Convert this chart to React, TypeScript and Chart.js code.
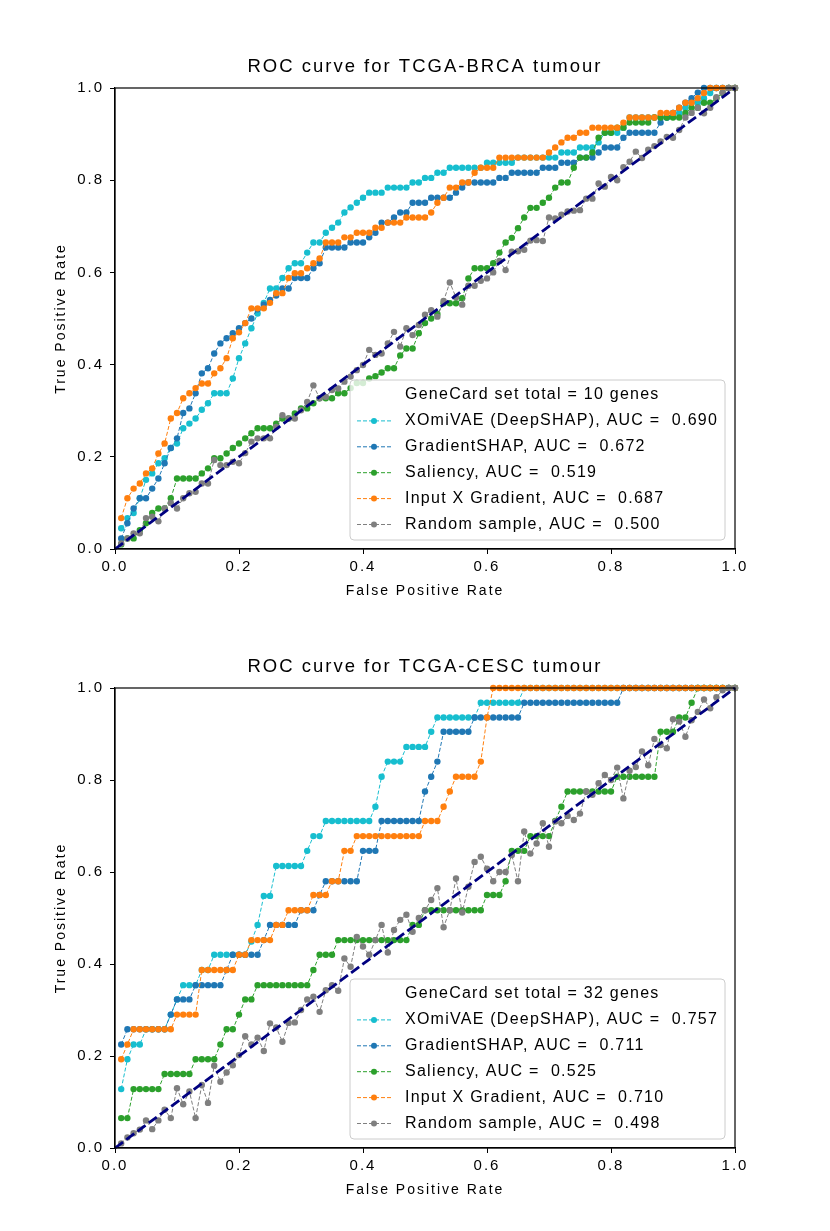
import { useEffect, useRef } from "react";
import { Chart, registerables } from "chart.js";

Chart.register(...registerables);

const FONT = '"Liberation Sans", Arial, Helvetica, sans-serif';

// false positive rate grid shared by every curve
const fpr = [
  0.01, 0.02, 0.03, 0.04, 0.05, 0.06, 0.07, 0.08, 0.09, 0.1,
  0.11, 0.12, 0.13, 0.14, 0.15, 0.16, 0.17, 0.18, 0.19, 0.2,
  0.21, 0.22, 0.23, 0.24, 0.25, 0.26, 0.27, 0.28, 0.29, 0.3,
  0.31, 0.32, 0.33, 0.34, 0.35, 0.36, 0.37, 0.38, 0.39, 0.4,
  0.41, 0.42, 0.43, 0.44, 0.45, 0.46, 0.47, 0.48, 0.49, 0.5,
  0.51, 0.52, 0.53, 0.54, 0.55, 0.56, 0.57, 0.58, 0.59, 0.6,
  0.61, 0.62, 0.63, 0.64, 0.65, 0.66, 0.67, 0.68, 0.69, 0.7,
  0.71, 0.72, 0.73, 0.74, 0.75, 0.76, 0.77, 0.78, 0.79, 0.8,
  0.81, 0.82, 0.83, 0.84, 0.85, 0.86, 0.87, 0.88, 0.89, 0.9,
  0.91, 0.92, 0.93, 0.94, 0.95, 0.96, 0.97, 0.98, 0.99, 1.0,
];

const methods = ["XOmiVAE (DeepSHAP)", "GradientSHAP", "Saliency", "Input X Gradient", "Random sample"];
const colors = ["#17becf", "#1f77b4", "#2ca02c", "#ff7f0e", "#7f7f7f"];

// ---- TCGA-BRCA ----
const brcaAuc = [0.69, 0.672, 0.519, 0.687, 0.5];
const brcaGenes = 10;

const brcaXomivae = [
  0.045, 0.067, 0.078, 0.11, 0.15, 0.164, 0.186, 0.197, 0.219, 0.229,
  0.262, 0.272, 0.283, 0.302, 0.316, 0.338, 0.338, 0.338, 0.37, 0.414,
  0.446, 0.479, 0.511, 0.534, 0.565, 0.565, 0.588, 0.609, 0.62, 0.62,
  0.643, 0.665, 0.665, 0.686, 0.697, 0.708, 0.73, 0.741, 0.751, 0.762,
  0.773, 0.773, 0.773, 0.784, 0.784, 0.784, 0.784, 0.795, 0.795, 0.805,
  0.805, 0.816, 0.816, 0.827, 0.827, 0.827, 0.827, 0.827, 0.827, 0.838,
  0.838, 0.838, 0.838, 0.838, 0.849, 0.849, 0.849, 0.849, 0.849, 0.849,
  0.849, 0.86, 0.86, 0.86, 0.871, 0.871, 0.871, 0.882, 0.903, 0.903,
  0.903, 0.914, 0.936, 0.936, 0.936, 0.936, 0.936, 0.936, 0.936, 0.946,
  0.946, 0.957, 0.968, 0.968, 0.978, 0.989, 1, 1, 1, 1,
];
const brcaGradShap = [
  0.023, 0.056, 0.088, 0.11, 0.11, 0.131, 0.153, 0.186, 0.219, 0.24,
  0.295, 0.305, 0.338, 0.381, 0.392, 0.424, 0.446, 0.457, 0.468, 0.479,
  0.49, 0.5, 0.52, 0.53, 0.54, 0.55, 0.565, 0.565, 0.588, 0.588,
  0.588, 0.609, 0.62, 0.654, 0.654, 0.654, 0.654, 0.665, 0.665, 0.665,
  0.676, 0.686, 0.708, 0.708, 0.719, 0.73, 0.73, 0.751, 0.751, 0.751,
  0.762, 0.762, 0.762, 0.762, 0.773, 0.784, 0.795, 0.795, 0.795, 0.795,
  0.795, 0.805, 0.805, 0.816, 0.816, 0.816, 0.816, 0.816, 0.827, 0.827,
  0.827, 0.838, 0.838, 0.838, 0.849, 0.849, 0.849, 0.86, 0.871, 0.871,
  0.871, 0.892, 0.903, 0.903, 0.903, 0.903, 0.903, 0.925, 0.936, 0.946,
  0.957, 0.968, 0.978, 0.99, 1, 1, 1, 1, 1, 1,
];
const brcaSaliency = [
  0.01, 0.023, 0.023, 0.041, 0.056, 0.078, 0.088, 0.088, 0.11, 0.153,
  0.153, 0.153, 0.153, 0.164, 0.175, 0.197, 0.197, 0.207, 0.219, 0.229,
  0.24, 0.251, 0.262, 0.262, 0.262, 0.272, 0.283, 0.283, 0.294, 0.305,
  0.305, 0.316, 0.327, 0.327, 0.327, 0.338, 0.338, 0.349, 0.36, 0.36,
  0.37, 0.375, 0.383, 0.392, 0.392, 0.42, 0.435, 0.435, 0.468, 0.49,
  0.5, 0.51, 0.533, 0.533, 0.533, 0.544, 0.587, 0.609, 0.609, 0.609,
  0.62, 0.643, 0.665, 0.675, 0.696, 0.719, 0.74, 0.74, 0.751, 0.762,
  0.784, 0.795, 0.795, 0.827, 0.849, 0.849, 0.86, 0.892, 0.903, 0.903,
  0.914, 0.914, 0.925, 0.925, 0.925, 0.925, 0.936, 0.936, 0.936, 0.936,
  0.936, 0.946, 0.957, 0.957, 0.968, 0.968, 0.978, 0.989, 1, 1,
];
const brcaInputXGrad = [
  0.067, 0.11, 0.131, 0.142, 0.164, 0.175, 0.207, 0.229, 0.283, 0.295,
  0.327, 0.338, 0.349, 0.359, 0.359, 0.381, 0.392, 0.414, 0.457, 0.47,
  0.49, 0.522, 0.522, 0.522, 0.534, 0.555, 0.555, 0.588, 0.598, 0.598,
  0.609, 0.62, 0.63, 0.665, 0.665, 0.665, 0.676, 0.676, 0.686, 0.686,
  0.686, 0.697, 0.697, 0.708, 0.708, 0.708, 0.719, 0.719, 0.719, 0.719,
  0.73, 0.751, 0.762, 0.784, 0.784, 0.795, 0.795, 0.816, 0.827, 0.827,
  0.827, 0.849, 0.849, 0.849, 0.849, 0.849, 0.849, 0.849, 0.849, 0.86,
  0.871, 0.882, 0.892, 0.892, 0.903, 0.903, 0.914, 0.914, 0.914, 0.914,
  0.914, 0.925, 0.936, 0.936, 0.936, 0.936, 0.936, 0.946, 0.946, 0.946,
  0.957, 0.968, 0.968, 0.978, 0.989, 1, 1, 1, 1, 1,
];
const brcaRandom = [
  0.012, 0.023, 0.034, 0.034, 0.067, 0.07, 0.06, 0.088, 0.1, 0.088,
  0.11, 0.121, 0.124, 0.142, 0.142, 0.193, 0.182, 0.182, 0.189, 0.186,
  0.208, 0.233, 0.24, 0.24, 0.24, 0.265, 0.29, 0.283, 0.283, 0.301,
  0.319, 0.355, 0.327, 0.33, 0.345, 0.348, 0.363, 0.374, 0.388, 0.399,
  0.432, 0.421, 0.424, 0.446, 0.471, 0.439, 0.479, 0.464, 0.486, 0.508,
  0.518, 0.504, 0.538, 0.578, 0.546, 0.53, 0.571, 0.571, 0.582, 0.587,
  0.6, 0.625, 0.605, 0.645, 0.646, 0.649, 0.669, 0.67, 0.668, 0.719,
  0.717, 0.725, 0.732, 0.734, 0.735, 0.76, 0.76, 0.793, 0.786, 0.807,
  0.8, 0.828, 0.84, 0.862, 0.848, 0.866, 0.874, 0.884, 0.894, 0.892,
  0.909, 0.936, 0.946, 0.957, 0.945, 0.957, 0.98, 0.99, 1, 1,
];

// ---- TCGA-CESC ----
const cescAuc = [0.757, 0.711, 0.525, 0.71, 0.498];
const cescGenes = 32;

const cescXomivae = [
  0.128, 0.193, 0.225, 0.225, 0.258, 0.258, 0.258, 0.258, 0.29, 0.323,
  0.354, 0.354, 0.354, 0.387, 0.387, 0.42, 0.42, 0.42, 0.42, 0.42,
  0.42, 0.449, 0.485, 0.548, 0.548, 0.613, 0.613, 0.613, 0.613, 0.613,
  0.646, 0.678, 0.678, 0.711, 0.711, 0.711, 0.711, 0.711, 0.711, 0.711,
  0.711, 0.742, 0.807, 0.84, 0.84, 0.84, 0.872, 0.872, 0.872, 0.872,
  0.905, 0.936, 0.936, 0.936, 0.936, 0.936, 0.936, 0.936, 0.968, 0.968,
  0.968, 0.968, 0.968, 0.968, 0.968, 1, 1, 1, 1, 1,
  1, 1, 1, 1, 1, 1, 1, 1, 1, 1,
  1, 1, 1, 1, 1, 1, 1, 1, 1, 1,
  1, 1, 1, 1, 1, 1, 1, 1, 1, 1,
];
const cescGradShap = [
  0.225, 0.258, 0.258, 0.258, 0.258, 0.258, 0.258, 0.258, 0.29, 0.323,
  0.323, 0.323, 0.354, 0.354, 0.354, 0.354, 0.354, 0.387, 0.42, 0.42,
  0.42, 0.42, 0.42, 0.452, 0.485, 0.485, 0.485, 0.485, 0.485, 0.517,
  0.517, 0.517, 0.55, 0.58, 0.58, 0.58, 0.58, 0.58, 0.58, 0.646,
  0.646, 0.646, 0.711, 0.711, 0.711, 0.711, 0.711, 0.711, 0.711, 0.775,
  0.807, 0.84, 0.905, 0.905, 0.905, 0.905, 0.905, 0.936, 0.936, 0.936,
  0.936, 0.936, 0.936, 0.936, 0.936, 0.968, 0.968, 0.968, 0.968, 0.968,
  0.968, 0.968, 0.968, 0.968, 0.968, 0.968, 0.968, 0.968, 0.968, 0.968,
  0.968, 1, 1, 1, 1, 1, 1, 1, 1, 1,
  1, 1, 1, 1, 1, 1, 1, 1, 1, 1,
];
const cescSaliency = [
  0.065, 0.065, 0.128, 0.128, 0.128, 0.128, 0.128, 0.161, 0.161, 0.161,
  0.161, 0.161, 0.193, 0.193, 0.193, 0.193, 0.225, 0.258, 0.258, 0.29,
  0.323, 0.323, 0.354, 0.354, 0.354, 0.354, 0.354, 0.354, 0.354, 0.354,
  0.354, 0.387, 0.42, 0.42, 0.42, 0.452, 0.452, 0.452, 0.452, 0.452,
  0.452, 0.452, 0.452, 0.452, 0.452, 0.452, 0.452, 0.485, 0.485, 0.517,
  0.517, 0.517, 0.517, 0.517, 0.517, 0.517, 0.517, 0.517, 0.517, 0.55,
  0.55, 0.55, 0.58, 0.646, 0.646, 0.646, 0.678, 0.678, 0.678, 0.678,
  0.711, 0.742, 0.775, 0.775, 0.775, 0.775, 0.775, 0.775, 0.775, 0.775,
  0.807, 0.807, 0.807, 0.807, 0.807, 0.807, 0.807, 0.905, 0.905, 0.905,
  0.936, 0.936, 0.968, 1, 1, 1, 1, 1, 1, 1,
];
const cescInputXGrad = [
  0.193, 0.225, 0.258, 0.258, 0.258, 0.258, 0.258, 0.258, 0.258, 0.29,
  0.29, 0.29, 0.29, 0.387, 0.387, 0.387, 0.387, 0.387, 0.387, 0.42,
  0.42, 0.452, 0.452, 0.452, 0.452, 0.485, 0.485, 0.517, 0.517, 0.517,
  0.517, 0.55, 0.55, 0.55, 0.58, 0.58, 0.646, 0.646, 0.678, 0.678,
  0.678, 0.678, 0.678, 0.678, 0.678, 0.678, 0.678, 0.678, 0.678, 0.711,
  0.711, 0.711, 0.742, 0.775, 0.807, 0.807, 0.807, 0.807, 0.84, 0.936,
  1, 1, 1, 1, 1, 1, 1, 1, 1, 1,
  1, 1, 1, 1, 1, 1, 1, 1, 1, 1,
  1, 1, 1, 1, 1, 1, 1, 1, 1, 1,
  1, 1, 1, 1, 1, 1, 1, 1, 1, 1,
];
const cescRandom = [
  0.01, 0.023, 0.032, 0.04, 0.06, 0.041, 0.06, 0.083, 0.065, 0.13,
  0.095, 0.123, 0.065, 0.137, 0.098, 0.179, 0.144, 0.164, 0.18, 0.202,
  0.243, 0.225, 0.24, 0.211, 0.271, 0.262, 0.231, 0.272, 0.273, 0.3,
  0.323, 0.329, 0.296, 0.343, 0.354, 0.342, 0.412, 0.394, 0.459, 0.438,
  0.42, 0.452, 0.485, 0.425, 0.474, 0.496, 0.507, 0.47, 0.5, 0.517,
  0.539, 0.565, 0.48, 0.517, 0.586, 0.512, 0.568, 0.622, 0.633, 0.607,
  0.58, 0.6, 0.6, 0.637, 0.58, 0.688, 0.64, 0.662, 0.706, 0.655,
  0.71, 0.706, 0.722, 0.713, 0.727, 0.775, 0.768, 0.793, 0.811, 0.8,
  0.827, 0.76, 0.82, 0.828, 0.862, 0.832, 0.889, 0.876, 0.869, 0.932,
  0.927, 0.894, 0.93, 0.948, 0.975, 0.956, 0.98, 0.995, 1, 1,
];

// frame on all four sides + in-axes legend (drawn over the curves)
const decorPlugin = {
  id: "decor",
  beforeDraw(chart: any) {
    chart.ctx.letterSpacing = "2px";
  },
  afterDatasetsDraw(chart: any, _args: any, opts: any) {
    const { ctx, chartArea: a } = chart;
    ctx.save();
    ctx.letterSpacing = "0px";
    ctx.setLineDash([]);
    ctx.strokeStyle = "#000";
    ctx.lineWidth = 1.2;
    ctx.strokeRect(a.left, a.top, a.right - a.left, a.bottom - a.top);

    const bx = a.left + 235;
    const by = a.bottom - 169;
    ctx.beginPath();
    ctx.roundRect(bx, by, 375, 160, 4);
    ctx.fillStyle = "rgba(255,255,255,0.8)";
    ctx.fill();
    ctx.strokeStyle = "#cccccc";
    ctx.lineWidth = 1;
    ctx.stroke();

    ctx.font = `16px ${FONT}`;
    ctx.letterSpacing = "1.25px";
    ctx.textBaseline = "middle";
    ctx.textAlign = "left";
    const rows: string[] = [opts.header, ...opts.labels];
    rows.forEach((label, i) => {
      const y = by + 15 + i * 25.9;
      if (i > 0) {
        const c = opts.colors[i - 1];
        ctx.strokeStyle = c;
        ctx.lineWidth = 1;
        ctx.setLineDash([4, 2]);
        ctx.beginPath();
        ctx.moveTo(bx + 7, y);
        ctx.lineTo(bx + 42, y);
        ctx.stroke();
        ctx.setLineDash([]);
        ctx.fillStyle = c;
        ctx.beginPath();
        ctx.arc(bx + 24, y, 3, 0, Math.PI * 2);
        ctx.fill();
      }
      ctx.fillStyle = "#000";
      ctx.fillText(label, bx + 55, y);
    });
    ctx.restore();
  },
};

type PanelProps = {
  title: string;
  genes: number;
  auc: number[];
  tpr: number[][];
  top: number;
  height: number;
  titleTop: number;
  padBottom: number;
};

function RocPanel({ title, genes, auc, tpr, top, height, titleTop, padBottom }: PanelProps) {
  const canvasRef = useRef<HTMLCanvasElement | null>(null);

  useEffect(() => {
    if (!canvasRef.current) {
      return;
    }

    const datasets: any[] = tpr.map((ys, s) => ({
      label: methods[s],
      data: ys.map((y, i) => ({ x: fpr[i], y })),
      borderColor: colors[s],
      backgroundColor: colors[s],
      borderWidth: 1,
      borderDash: [4, 2],
      pointRadius: 3.2,
      pointBorderWidth: 0,
      pointBackgroundColor: colors[s],
      tension: 0,
      clip: false,
      order: 5 - s,
    }));
    datasets.push({
      label: "chance",
      data: [
        { x: 0, y: 0 },
        { x: 1, y: 1 },
      ],
      borderColor: "#000080",
      borderWidth: 2.8,
      borderDash: [10, 4],
      pointRadius: 0,
      clip: false,
      order: 0,
    });

    const tickFont = { family: FONT, size: 15 };
    const titleFont = { family: FONT, size: 14 };

    const chart = new Chart(canvasRef.current, {
      type: "line",
      data: { datasets },
      plugins: [decorPlugin],
      options: {
        responsive: false,
        animation: false,
        layout: { padding: { left: 45, right: 25, top: 0, bottom: padBottom } },
        plugins: {
          legend: { display: false },
          tooltip: { enabled: false },
          title: {
            display: true,
            text: title,
            color: "#000",
            font: { family: FONT, size: 18.5, weight: "normal" },
            padding: { top: titleTop, bottom: 10 },
          },
          decor: {
            header: `GeneCard set total = ${genes} genes`,
            labels: methods.map((m, i) => `${m}, AUC =  ${auc[i].toFixed(3)}`),
            colors,
          },
        } as any,
        scales: {
          x: {
            type: "linear",
            min: 0,
            max: 1,
            ticks: {
              stepSize: 0.2,
              callback: (v: any) => Number(v).toFixed(1),
              color: "#000",
              font: tickFont,
              padding: 4,
              maxRotation: 0,
            },
            grid: { drawOnChartArea: false, drawTicks: true, tickLength: 5, tickColor: "#000", tickWidth: 1 },
            border: { display: true, color: "#000", width: 1.2 },
            title: {
              display: true,
              text: "False Positive Rate",
              color: "#000",
              font: titleFont,
              padding: { top: 0, bottom: 4 },
            },
            afterFit: (s: any) => {
              s.height = 55;
            },
          },
          y: {
            type: "linear",
            min: 0,
            max: 1,
            ticks: {
              stepSize: 0.2,
              callback: (v: any) => Number(v).toFixed(1),
              color: "#000",
              font: tickFont,
              padding: 6,
            },
            grid: { drawOnChartArea: false, drawTicks: true, tickLength: 5, tickColor: "#000", tickWidth: 1 },
            border: { display: true, color: "#000", width: 1.2 },
            title: {
              display: true,
              text: "True Positive Rate",
              color: "#000",
              font: titleFont,
              padding: { top: 8, bottom: 0 },
            },
            afterFit: (s: any) => {
              s.width = 70;
            },
          },
          // empty right-hand spacer so the title is centred over the plot area
          ySpacer: {
            type: "linear",
            position: "right",
            min: 0,
            max: 1,
            ticks: { display: false },
            grid: { display: false },
            border: { display: false },
            afterFit: (s: any) => {
              s.width = 70;
            },
          },
        },
      },
    } as any);

    return () => chart.destroy();
  }, [title, genes, auc, tpr, titleTop, padBottom]);

  return (
    <div style={{ position: "absolute", left: 0, top, width: 830, height }}>
      <canvas ref={canvasRef} width={830} height={height} style={{ display: "block" }} />
    </div>
  );
}

const brcaTpr = [brcaXomivae, brcaGradShap, brcaSaliency, brcaInputXGrad, brcaRandom];
const cescTpr = [cescXomivae, cescGradShap, cescSaliency, cescInputXGrad, cescRandom];

export default function App() {
  return (
    <div style={{ position: "absolute", left: 0, top: 0, width: 830, height: 1231, background: "#fff" }}>
      <RocPanel
        title="ROC curve for TCGA-BRCA tumour"
        genes={brcaGenes}
        auc={brcaAuc}
        tpr={brcaTpr}
        top={0}
        height={615}
        titleTop={55.8}
        padBottom={11}
      />
      <RocPanel
        title="ROC curve for TCGA-CESC tumour"
        genes={cescGenes}
        auc={cescAuc}
        tpr={cescTpr}
        top={615}
        height={616}
        titleTop={40.8}
        padBottom={28}
      />
    </div>
  );
}
